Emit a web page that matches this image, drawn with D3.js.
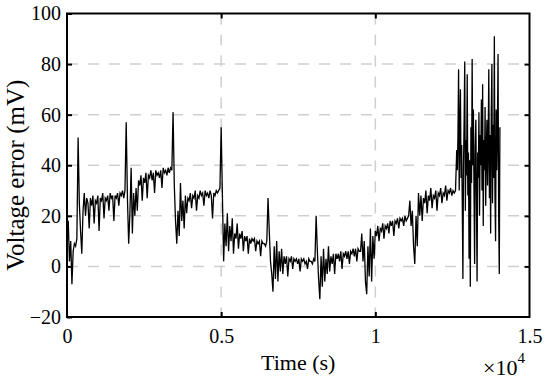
<!DOCTYPE html>
<html>
<head>
<meta charset="utf-8">
<script src="https://cdn.jsdelivr.net/npm/d3@7"></script>
<style>
  body { margin: 0; background: #fff; }
  svg { display: block; }
  text { font-family: "Liberation Serif", "Times New Roman", serif; fill: #000; }
</style>
</head>
<body>
<div class="chart"></div>
<script>
// time in units of 1e4 s
// steady part: t = 0 .. 1.26, one sample every 0.004
var steadyStep = 0.004;
var errSteady = [
  8, 18, 2, 10, -7, 6, 9, 8, 11,
  51, 25, 14, 5, 22, 29,
  20, 27, 25, 15, 27, 24, 28, 17, 26, 25, 28, 14, 27, 26, 29, 19, 27, 26, 28, 22,
  29, 27, 28, 18, 28, 27, 29, 24, 29, 28, 30, 27, 30,
  57, 27, 9, 21, 39, 13, 29, 20,
  31, 22, 34, 32, 36, 26, 35, 33, 37, 27, 36, 35, 38, 34, 37, 29, 38, 36, 37, 35,
  38, 31, 39, 37, 38, 36, 39, 37, 39, 38,
  61, 32, 18, 9, 22, 12, 33, 18, 26, 15,
  28, 21, 27, 26, 29, 23, 28, 27, 30, 22, 28, 27, 30, 28, 29, 24, 30, 28, 29, 27,
  30, 28, 19, 29, 28, 30, 29, 30, 31,
  55, 28, 2, 17, 8,
  21, 6, 16, 10, 19, 5, 13, 11, 17, 7, 13, 11, 14, 6, 12, 10, 12, 5, 11, 9,
  11, 10, 11, 6, 10, 9, 10, 4, 10, 9, 9, 8, 10,
  27, 14, 2, -3, -10,
  8, -5, 10, -6, 6, -2, 7, -3, 4, 1, 4, -4, 3, 2, 4, -1, 3, 2, 3, 1,
  3, -2, 3, 2, 3, 1, 2, -1, 3, 2, 2, 1, 3, 2,
  20, 6, -5, -13,
  4, -8, 7, -6, 3, -3, 8, -2, 4, 1, 5, -3, 5, 3, 5, 2, 6, -1, 5, 4,
  6, 3, 6, 1, 6, 5, 7, 4, 7, 2, 7, 6, 6,
  13, 2, 10, -6, -11, 8, -4, 15, -6, 12, 3, 14,
  12, 16, 10, 15, 14, 17, 11, 16, 15, 17, 13, 18, 16, 18, 12, 18, 17, 19, 15, 19,
  18, 19, 16, 20, 18, 19, 20,
  26, 16, 22, 8, 1, 20, 8, 29,
  20, 28, 18, 27, 25, 30, 21, 28, 26, 31, 23, 28, 27, 30, 22, 29, 28, 31, 25, 29,
  28, 32, 26, 30, 29, 31, 28, 30, 29, 30
];
// oscillating burst at the end: t = 1.264 .. 1.404, one sample every 0.002
var burstStart = 1.264;
var burstStep = 0.002;
var errBurst = [
  46, 38, 52, 78, 30, 55, 70, 35, 48, 25, -5, 40, 58, 81, 22, 50, 36, 76, 28, 45,
  3, 42, -8, 55, 33, 82, 40, 62, 30, 1, 47, 58, 26, -6, 45, 35, 61, 20, 52, 40,
  66, 30, 72, 16, 50, 38, 63, 24, 45, 58, 32, 48, 78, 27, 52, 13, 60, 80, 25, 56,
  35, 91, 28, 10, 62, 38, 55, 84, 20, -3, 55
];
var xTicks = [0, 0.5, 1, 1.5];
var yTicks = [-20, 0, 20, 40, 60, 80, 100];
var xGrid = [0.5, 1];
var yGrid = [0, 20, 40, 60, 80];

var width = 550, height = 382;
var plotLeft = 67, plotRight = 529.5, plotTop = 13.5, plotBottom = 317;

var points = errSteady.map(function(v, i) { return { t: i * steadyStep, v: v }; })
    .concat(errBurst.map(function(v, j) { return { t: burstStart + j * burstStep, v: v }; }));

var x = d3.scaleLinear().domain([0, 1.5]).range([plotLeft, plotRight]);
var y = d3.scaleLinear().domain([-20, 100]).range([plotBottom, plotTop]);

var svg = d3.select('.chart').append('svg')
    .attr('width', width)
    .attr('height', height);

svg.append('rect').attr('width', width).attr('height', height).attr('fill', '#fff');

// dashed grid
var grid = svg.append('g')
    .attr('stroke', '#cfcfcf')
    .attr('stroke-width', 1.5)
    .attr('stroke-dasharray', '11,10');
yGrid.forEach(function(d) {
    grid.append('line')
        .attr('x1', plotLeft).attr('x2', plotRight)
        .attr('y1', y(d)).attr('y2', y(d));
});
xGrid.forEach(function(d) {
    grid.append('line')
        .attr('x1', x(d)).attr('x2', x(d))
        .attr('y1', plotTop).attr('y2', plotBottom);
});

// signal
var line = d3.line()
    .x(function(d) { return x(d.t); })
    .y(function(d) { return y(d.v); });

svg.append('path')
    .datum(points)
    .attr('fill', 'none')
    .attr('stroke', '#000')
    .attr('stroke-width', 1.3)
    .attr('d', line);

// axes with inward ticks
function styleAxis(g, showText) {
    g.select('.domain').remove();
    g.selectAll('.tick line').attr('stroke', '#000').attr('stroke-width', 2);
    g.selectAll('.tick text')
        .style('font-family', '"Liberation Serif", "Times New Roman", serif')
        .style('font-size', '20px')
        .attr('fill', '#000');
    if (!showText) g.selectAll('.tick text').remove();
}

svg.append('g')
    .attr('transform', 'translate(' + plotLeft + ',0)')
    .call(d3.axisLeft(y).tickValues(yTicks).tickSize(-5).tickPadding(6).tickFormat(d3.format('d')))
    .call(styleAxis, true);

svg.append('g')
    .attr('transform', 'translate(' + plotRight + ',0)')
    .call(d3.axisRight(y).tickValues(yTicks.slice(1, -1)).tickSize(-5))
    .call(styleAxis, false);

var bottomAxis = svg.append('g')
    .attr('transform', 'translate(0,' + plotBottom + ')')
    .call(d3.axisBottom(x).tickValues(xTicks).tickSize(-5).tickPadding(12).tickFormat(function(d) { return String(d); }))
    .call(styleAxis, true);
bottomAxis.selectAll('.tick').filter(function(d) { return d === 0 || d === 1.5; }).select('line').remove();

svg.append('g')
    .attr('transform', 'translate(0,' + plotTop + ')')
    .call(d3.axisTop(x).tickValues(xGrid).tickSize(-5))
    .call(styleAxis, false);

// frame
svg.append('rect')
    .attr('x', plotLeft).attr('y', plotTop)
    .attr('width', plotRight - plotLeft).attr('height', plotBottom - plotTop)
    .attr('fill', 'none')
    .attr('stroke', '#000')
    .attr('stroke-width', 2);

// labels
svg.append('text')
    .attr('x', (plotLeft + plotRight) / 2)
    .attr('y', 370)
    .attr('text-anchor', 'middle')
    .style('font-size', '22px')
    .text('Time (s)');

svg.append('text')
    .attr('transform', 'translate(24,' + ((plotTop + plotBottom) / 2 + 10) + ') rotate(-90)')
    .attr('text-anchor', 'middle')
    .style('font-size', '25px')
    .text('Voltage error (mV)');

var expo = svg.append('text')
    .attr('x', 483)
    .attr('y', 375)
    .style('font-size', '22px');
expo.append('tspan').text('\u00d710');
expo.append('tspan').attr('dy', -12).style('font-size', '15px').text('4');
</script>
</body>
</html>
